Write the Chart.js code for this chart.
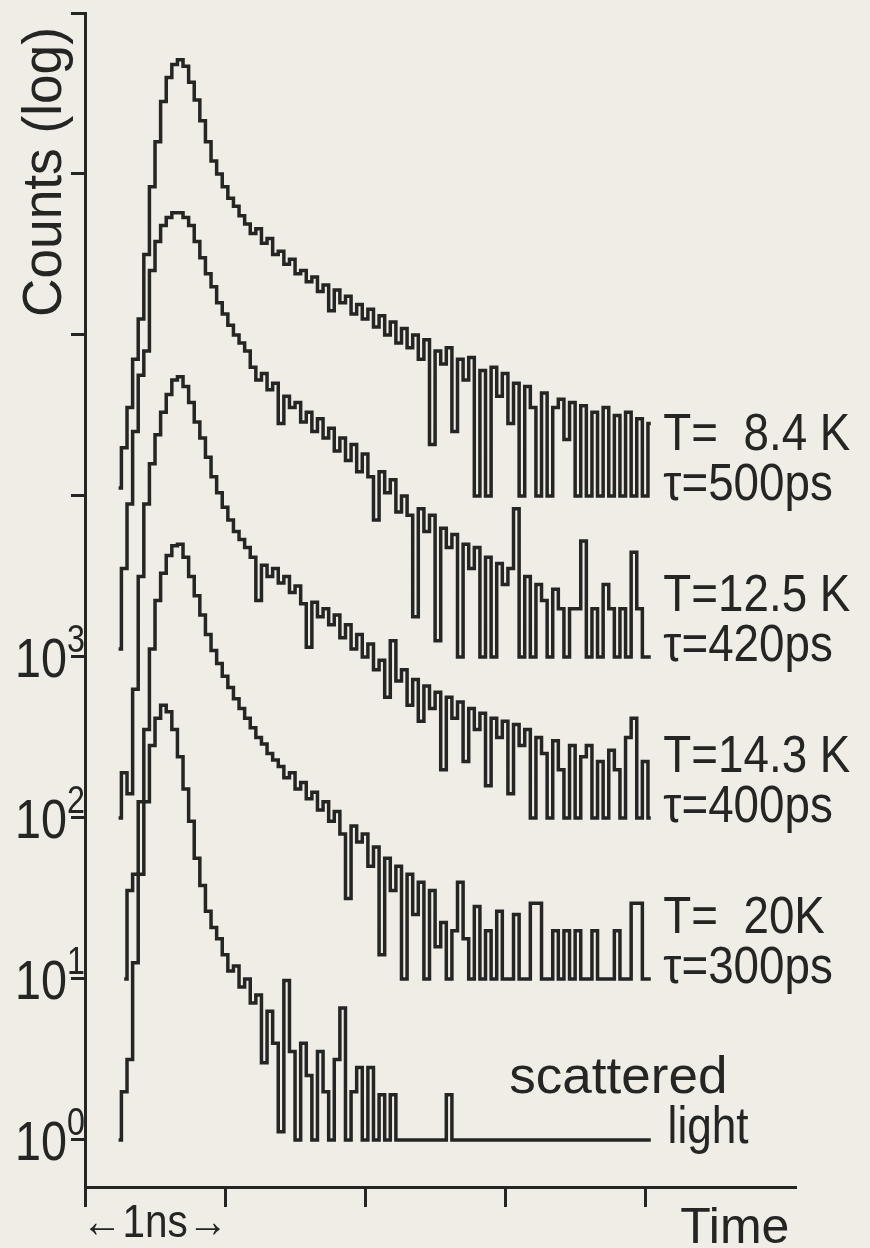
<!DOCTYPE html>
<html>
<head>
<meta charset="utf-8">
<title>Decay curves</title>
<script src="https://cdn.jsdelivr.net/npm/chart.js@4.4.1/dist/chart.umd.min.js"></script>
<style>
  html, body { margin: 0; padding: 0; background: #efede6; }
  canvas { display: block; }
</style>
</head>
<body>
<canvas id="decayChart" width="870" height="1248"></canvas>
<script>
// channel times in ns
var timeNs = [
  0.20, 0.24, 0.28, 0.32, 0.36, 0.40, 0.44, 0.48, 0.52, 0.56,
  0.60, 0.64, 0.68, 0.72, 0.76, 0.80, 0.84, 0.88, 0.92, 0.96,
  1.00, 1.04, 1.08, 1.12, 1.16, 1.20, 1.24, 1.28, 1.32, 1.36,
  1.40, 1.44, 1.48, 1.52, 1.56, 1.60, 1.64, 1.68, 1.72, 1.76,
  1.80, 1.84, 1.88, 1.92, 1.96, 2.00, 2.04, 2.08, 2.12, 2.16,
  2.20, 2.24, 2.28, 2.32, 2.36, 2.40, 2.44, 2.48, 2.52, 2.56,
  2.60, 2.64, 2.68, 2.72, 2.76, 2.80, 2.84, 2.88, 2.92, 2.96,
  3.00, 3.04, 3.08, 3.12, 3.16, 3.20, 3.24, 3.28, 3.32, 3.36,
  3.40, 3.44, 3.48, 3.52, 3.56, 3.60, 3.64, 3.68, 3.72, 3.76,
  3.80, 3.84, 3.88, 3.92, 3.96, 4.00, 4.04, 4.08, 4.12
];

// log10(counts), each curve shifted by one decade
var log84K = [
  null, 4.05, 4.30, 4.55, 4.85, 5.10, 5.50, 5.92, 6.20, 6.45,
  6.60, 6.68, 6.71, 6.67, 6.57, 6.46, 6.33, 6.20, 6.08, 6.00,
  5.92, 5.85, 5.80, 5.74, 5.69, 5.63, 5.66, 5.57, 5.60, 5.50,
  5.52, 5.44, 5.47, 5.38, 5.40, 5.33, 5.36, 5.27, 5.31, 5.15,
  5.28, 5.20, 5.24, 5.13, 5.19, 5.10, 5.16, 5.05, 5.12, 5.00,
  5.08, 4.95, 5.04, 4.92, 5.00, 4.85, 4.97, 4.32, 4.90, 4.82,
  4.92, 4.40, 4.85, 4.72, 4.86, 4.00, 4.78, 4.00, 4.80, 4.62,
  4.76, 4.45, 4.70, 4.00, 4.68, 4.55, 4.00, 4.64, 4.00, 4.55,
  4.60, 4.35, 4.58, 4.00, 4.56, 4.00, 4.52, 4.00, 4.55, 4.00,
  4.50, 4.00, 4.52, 4.00, 4.48, 4.00, 4.45, null, null
];
var log125K = [
  null, 3.05, 3.55, 3.95, 4.40, 4.75, 4.90, 5.40, 5.58, 5.68,
  5.73, 5.76, 5.76, 5.73, 5.68, 5.58, 5.48, 5.38, 5.30, 5.20,
  5.13, 5.06, 5.00, 4.95, 4.90, 4.80, 4.72, 4.76, 4.66, 4.70,
  4.45, 4.62, 4.55, 4.58, 4.46, 4.52, 4.40, 4.48, 4.36, 4.42,
  4.28, 4.36, 4.22, 4.32, 4.15, 4.26, 4.12, 3.85, 4.15, 4.02,
  4.10, 3.90, 4.00, 3.88, 3.25, 3.92, 3.78, 3.88, 3.10, 3.80,
  3.68, 3.76, 3.00, 3.70, 3.55, 3.68, 3.00, 3.62, 3.00, 3.58,
  3.45, 3.55, 3.92, 3.00, 3.50, 3.00, 3.45, 3.35, 3.00, 3.42,
  3.30, 3.00, 3.30, 3.30, 3.72, 3.00, 3.30, 3.00, 3.45, 3.30,
  3.00, 3.30, 3.00, 3.65, 3.30, 3.00, 3.00, null, null
];
var log143K = [
  null, 2.00, 2.28, 2.15, 2.80, 3.50, 3.95, 4.20, 4.38, 4.52,
  4.63, 4.72, 4.74, 4.68, 4.58, 4.46, 4.36, 4.24, 4.12, 4.02,
  3.93, 3.85, 3.78, 3.73, 3.68, 3.62, 3.35, 3.57, 3.50, 3.55,
  3.46, 3.50, 3.40, 3.44, 3.33, 3.06, 3.34, 3.25, 3.30, 3.20,
  3.26, 3.12, 3.20, 3.05, 3.14, 3.00, 3.08, 2.92, 2.98, 2.75,
  3.10, 2.85, 2.92, 2.70, 2.86, 2.60, 2.82, 2.68, 2.78, 2.30,
  2.75, 2.62, 2.72, 2.35, 2.68, 2.55, 2.65, 2.20, 2.62, 2.50,
  2.60, 2.15, 2.58, 2.45, 2.55, 2.00, 2.50, 2.40, 2.00, 2.48,
  2.30, 2.00, 2.45, 2.00, 2.38, 2.45, 2.00, 2.35, 2.00, 2.42,
  2.30, 2.00, 2.50, 2.62, 2.00, 2.35, 2.00, null, null
];
var log20K = [
  null, null, 1.00, 1.55, 1.65, 2.10, 2.55, 3.05, 3.35, 3.52,
  3.63, 3.69, 3.70, 3.62, 3.50, 3.38, 3.26, 3.14, 3.04, 2.96,
  2.88, 2.81, 2.74, 2.68, 2.62, 2.56, 2.50, 2.46, 2.40, 2.36,
  2.32, 2.25, 2.28, 2.18, 2.22, 2.12, 2.16, 2.05, 2.10, 1.98,
  2.04, 1.90, 1.50, 1.95, 1.85, 1.90, 1.70, 1.82, 1.15, 1.75,
  1.55, 1.70, 1.00, 1.65, 1.40, 1.60, 1.00, 1.55, 1.20, 1.35,
  1.00, 1.30, 1.60, 1.25, 1.00, 1.45, 1.00, 1.30, 1.00, 1.42,
  1.00, 1.00, 1.40, 1.00, 1.00, 1.47, 1.47, 1.00, 1.00, 1.30,
  1.00, 1.30, 1.00, 1.30, 1.00, 1.00, 1.30, 1.00, 1.00, 1.00,
  1.30, 1.00, 1.00, 1.47, 1.47, 1.00, 1.00, null, null
];
var logScattered = [
  null, 0.00, 0.30, 0.50, 1.10, 1.65, 2.10, 2.45, 2.62, 2.70,
  2.66, 2.55, 2.38, 2.18, 1.98, 1.75, 1.58, 1.42, 1.32, 1.25,
  1.15, 1.05, 1.08, 0.95, 1.00, 0.85, 0.90, 0.48, 0.80, 0.60,
  0.05, 0.99, 0.55, 0.00, 0.60, 0.40, 0.00, 0.55, 0.30, 0.00,
  0.50, 0.82, 0.00, 0.30, 0.45, 0.00, 0.45, 0.00, 0.28, 0.00,
  0.28, 0.00, 0.00, 0.00, 0.00, 0.00, 0.00, 0.00, 0.00, 0.00,
  0.28, 0.00, 0.00, 0.00, 0.00, 0.00, 0.00, 0.00, 0.00, 0.00,
  0.00, 0.00, 0.00, 0.00, 0.00, 0.00, 0.00, 0.00, 0.00, 0.00,
  0.00, 0.00, 0.00, 0.00, 0.00, 0.00, 0.00, 0.00, 0.00, 0.00,
  0.00, 0.00, 0.00, 0.00, 0.00, 0.00, 0.00, null, null
];

// background level of each curve (where its label sits)
var floorCounts = [1e4, 1e3, 1e2, 1e1, 1e0];
var tempLabels = ['T=  8.4 K', 'T=12.5 K', 'T=14.3 K', 'T=  20K'];
var tauLabels = ['\u03c4=500ps', '\u03c4=420ps', '\u03c4=400ps', '\u03c4=300ps'];
var scatterLabels = ['scattered', 'light'];

var xTicksNs = [0, 1, 2, 3, 4];
var yDecades = [0, 1, 2, 3, 4, 5, 6, 7];
var labeledDecades = [0, 1, 2, 3];

var ink = '#252524';
var paper = '#efede6';
var fontFamily = '"Liberation Sans", Arial, sans-serif';

function toCounts(arr) {
  return arr.map(function (v) { return v === null ? null : Math.pow(10, v); });
}

function makeSet(name, logs) {
  return {
    label: name,
    data: toCounts(logs),
    borderColor: ink,
    borderWidth: 3.5,
    pointRadius: 0,
    stepped: 'middle',
    fill: false
  };
}

function drawText(ctx, str, x, y, size, sx, align) {
  ctx.save();
  ctx.font = size + 'px ' + fontFamily;
  ctx.textAlign = align || 'left';
  ctx.textBaseline = 'alphabetic';
  ctx.translate(x, y);
  ctx.scale(sx, 1);
  ctx.fillText(str, 0, 0);
  ctx.restore();
}

var paperPlugin = {
  id: 'paper',
  beforeDraw: function (chart) {
    var ctx = chart.ctx;
    ctx.save();
    ctx.fillStyle = paper;
    ctx.fillRect(0, 0, chart.width, chart.height);
    ctx.restore();
  }
};

var labelsPlugin = {
  id: 'labels',
  afterDraw: function (chart) {
    var ctx = chart.ctx;
    var xs = chart.scales.x;
    var ys = chart.scales.y;
    ctx.fillStyle = ink;

    // 10^n tick labels
    labeledDecades.forEach(function (d) {
      var py = ys.getPixelForValue(Math.pow(10, d));
      drawText(ctx, '10', 67, py + 20, 55, 0.85, 'right');
      drawText(ctx, String(d), 67, py - 5, 38, 0.85, 'left');
    });

    // axis title
    ctx.save();
    ctx.translate(61, 172);
    ctx.rotate(-Math.PI / 2);
    ctx.scale(0.95, 1);
    ctx.font = '56px ' + fontFamily;
    ctx.textAlign = 'center';
    ctx.fillText('Counts (log)', 0, 0);
    ctx.restore();

    // curve labels
    var lx = xs.getPixelForValue(4.13);
    tempLabels.forEach(function (s, k) {
      var fy = ys.getPixelForValue(floorCounts[k]);
      drawText(ctx, s, lx, fy - 46, 52, 0.88);
      drawText(ctx, tauLabels[k], lx, fy + 4, 52, 0.88);
    });
    var sy = ys.getPixelForValue(floorCounts[4]);
    drawText(ctx, scatterLabels[0], xs.getPixelForValue(3.03), sy - 47, 52, 1.02);
    drawText(ctx, scatterLabels[1], xs.getPixelForValue(4.16), sy + 3, 52, 0.85);

    // x axis texts
    drawText(ctx, '\u21901ns\u2192', xs.left - 3, ys.bottom + 50, 46, 0.88);
    drawText(ctx, 'Time', xs.getPixelForValue(4.25), ys.bottom + 56, 50, 1);
  }
};

var ctx = document.getElementById('decayChart').getContext('2d');
var decayChart = new Chart(ctx, {
  type: 'line',
  data: {
    labels: timeNs,
    datasets: [
      makeSet('T=8.4 K', log84K),
      makeSet('T=12.5 K', log125K),
      makeSet('T=14.3 K', log143K),
      makeSet('T=20 K', log20K),
      makeSet('scattered light', logScattered)
    ]
  },
  options: {
    responsive: false,
    animation: false,
    devicePixelRatio: 1,
    layout: { padding: { top: 13, right: 75, bottom: 0, left: 0 } },
    plugins: {
      legend: { display: false },
      tooltip: { enabled: false }
    },
    scales: {
      x: {
        type: 'linear',
        min: 0,
        max: 5.07,
        afterBuildTicks: function (s) {
          s.ticks = xTicksNs.map(function (v) { return { value: v }; });
        },
        afterFit: function (s) { s.height = 61; },
        ticks: { display: false },
        grid: { drawOnChartArea: false, drawTicks: true, tickLength: 20, color: ink, lineWidth: 3 },
        border: { display: true, color: ink, width: 3 }
      },
      y: {
        type: 'logarithmic',
        min: 0.51,
        max: 1e7,
        afterBuildTicks: function (s) {
          s.ticks = yDecades.map(function (d) { return { value: Math.pow(10, d) }; });
        },
        afterFit: function (s) { s.width = 85; },
        ticks: { display: false },
        grid: { drawOnChartArea: false, drawTicks: true, tickLength: 14, color: ink, lineWidth: 3 },
        border: { display: true, color: ink, width: 3 }
      }
    }
  },
  plugins: [paperPlugin, labelsPlugin]
});
</script>
</body>
</html>
